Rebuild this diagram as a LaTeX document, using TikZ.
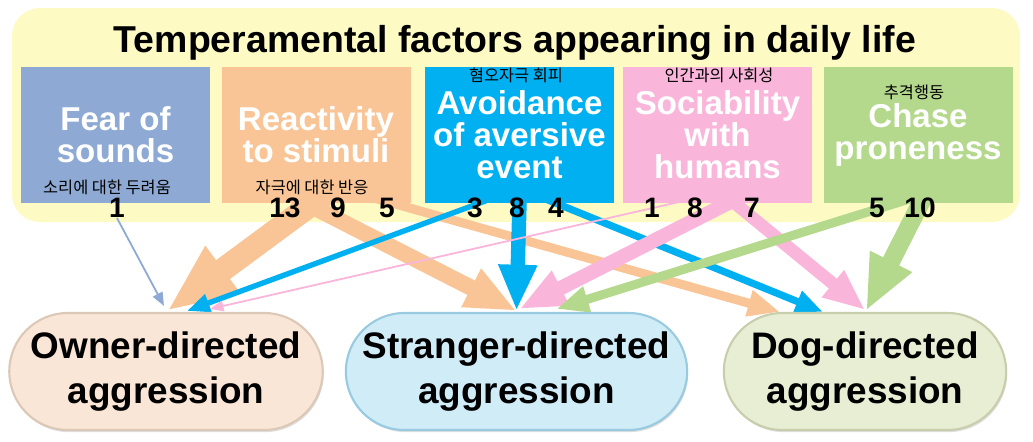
\documentclass[tikz,border=0pt]{standalone}
\usepackage{fontspec}
\setmainfont{Liberation Sans}
\newfontfamily\kor{Noto Sans CJK KR}
\usetikzlibrary{arrows.meta,positioning,shapes.misc,calc,backgrounds,shadows}
\definecolor{fearcol}{HTML}{8EAAD4}
\definecolor{reacol}{HTML}{F9C596}
\definecolor{avocol}{HTML}{00B0F0}
\definecolor{soccol}{HTML}{F9B6DA}
\definecolor{chacol}{HTML}{B4D98C}
\definecolor{yelcol}{HTML}{FEFAC4}
\definecolor{owncol}{HTML}{FAE6D6}
\definecolor{ownline}{HTML}{DCC8B6}
\definecolor{strcol}{HTML}{CFECF7}
\definecolor{strline}{HTML}{98CAE0}
\definecolor{dogcol}{HTML}{E8EED3}
\definecolor{dogline}{HTML}{C8CEAC}
\pgfdeclarelayer{back}
\pgfdeclarelayer{background}
\pgfsetlayers{back,background,main}

\begin{document}
\begin{tikzpicture}[
  factor/.style={minimum width=3.78cm, minimum height=2.72cm, align=center, text=white, inner sep=0pt, font=\fontsize{18.8}{18.2}\selectfont\bfseries},
  kr/.style={inner sep=0pt, font=\kor\fontsize{9.3}{10}\selectfont},
  num/.style={inner sep=0pt, font=\fontsize{16}{18}\selectfont\bfseries},
  pill/.style={rounded rectangle, minimum width=#1, minimum height=2.34cm, align=center, line width=1.2pt, font=\fontsize{21}{25.5}\selectfont\bfseries, drop shadow={opacity=0.25, shadow xshift=0.6pt, shadow yshift=-1.2pt}},
  flow/.style={line width=#1*0.36mm, -{Triangle[length=5pt 2.6, width=4pt 2.0]}, shorten <=-0.35cm}
]
\useasboundingbox (0,0) rectangle (20.66,-8.82);
% Daily-life frame
\begin{pgfonlayer}{back}
\fill[yelcol, rounded corners=0.56cm] (0.24,-0.16) rectangle (20.4,-4.44);
\end{pgfonlayer}
\node[font=\fontsize{21.3}{24}\selectfont\bfseries] (title) at (10.3,-0.86) {Temperamental factors appearing in daily life};
% Temperamental factors
\node[factor, fill=fearcol] (fear) at (2.31,-2.7) {Fear of\\sounds};
\node[factor, fill=reacol] (rea) at (6.32,-2.7) {Reactivity\\to stimuli};
\node[factor, fill=avocol] (avo) at (10.39,-2.7) {Avoidance\\of aversive\\event};
\node[factor, fill=soccol] (soc) at (14.35,-2.7) {Sociability\\with\\humans};
\node[factor, fill=chacol] (cha) at (18.36,-2.7) {Chase\\proneness};
\node[kr] (fear-kr) at (2.14,-3.74) {소리에 대한 두려움};
\node[kr] (rea-kr) at (6.24,-3.74) {자극에 대한 반응};
\node[kr] (avo-kr) at (10.32,-1.5) {혐오자극 회피};
\node[kr] (soc-kr) at (14.38,-1.5) {인간과의 사회성};
\node[kr] (cha-kr) at (18.28,-1.84) {추격행동};
% Counts
\node[num] (fear1) at (2.34,-4.16) {1};
\node[num] (rea13) at (5.7,-4.16) {13};
\node[num] (rea9) at (6.76,-4.16) {9};
\node[num] (rea5) at (7.74,-4.16) {5};
\node[num] (avo3) at (9.5,-4.16) {3};
\node[num] (avo8) at (10.34,-4.16) {8};
\node[num] (avo4) at (11.12,-4.16) {4};
\node[num] (soc1) at (13.04,-4.16) {1};
\node[num] (soc8) at (13.9,-4.16) {8};
\node[num] (soc7) at (15.04,-4.16) {7};
\node[num] (cha5) at (17.54,-4.16) {5};
\node[num] (cha10) at (18.4,-4.16) {10};
% Aggression types
\node[pill=6.24cm, fill=owncol, draw=ownline] (own) at (3.32,-7.43) {Owner-directed\\aggression};
\node[pill=7.06cm, fill=strcol, draw=strline] (str) at (10.33,-7.43) {Stranger-directed\\aggression};
\node[pill=5.88cm, fill=dogcol, draw=dogline] (dog) at (17.3,-7.43) {Dog-directed\\aggression};
% Flows
\begin{scope}[on background layer]
\draw[flow=1, draw=fearcol, shorten <=0pt] (fear1.south) -- ($(own.north)+(-0.04,0.12)$);
\draw[flow=13, draw=reacol] ($(rea.south)+(-0.12,-0.04)$) -- ($(own.north)+(0.02,0.02)$);
\draw[flow=9, draw=reacol] ($(rea.south)+(-0.12,-0.04)$) -- ($(str.north)+(0,0.02)$);
\draw[flow=5, draw=reacol] ($(rea.south)+(1.54,0)$) -- ($(dog.north)+(-1.7,0)$);
\draw[flow=3, draw=avocol] ($(avo.south)+(0,0.3)$) -- ($(own.north)+(0.42,0.02)$);
\draw[flow=8, draw=avocol] (avo.south) -- ($(str.north)+(0,0.02)$);
\draw[flow=4, draw=avocol] ($(avo.south)+(0,0.3)$) -- ($(dog.north)+(-0.84,0)$);
\draw[flow=1, draw=soccol] ($(soc.south)+(-0.89,0)$) -- ($(own.north)+(0.88,0.06)$);
\draw[flow=8, draw=soccol] ($(soc.south)+(0.2,0)$) -- ($(str.north)+(0.06,0.06)$);
\draw[flow=7, draw=soccol] ($(soc.south)+(0.35,0)$) -- ($(dog.north)+(0,0.04)$);
\draw[flow=5, draw=chacol] ($(cha.south)+(-0.45,0)$) -- ($(str.north)+(0.8,0.06)$);
\draw[flow=10, draw=chacol] ($(cha.south)+(0.05,0)$) -- ($(dog.north)+(0.02,0.02)$);
\end{scope}
\end{tikzpicture}
\end{document}
